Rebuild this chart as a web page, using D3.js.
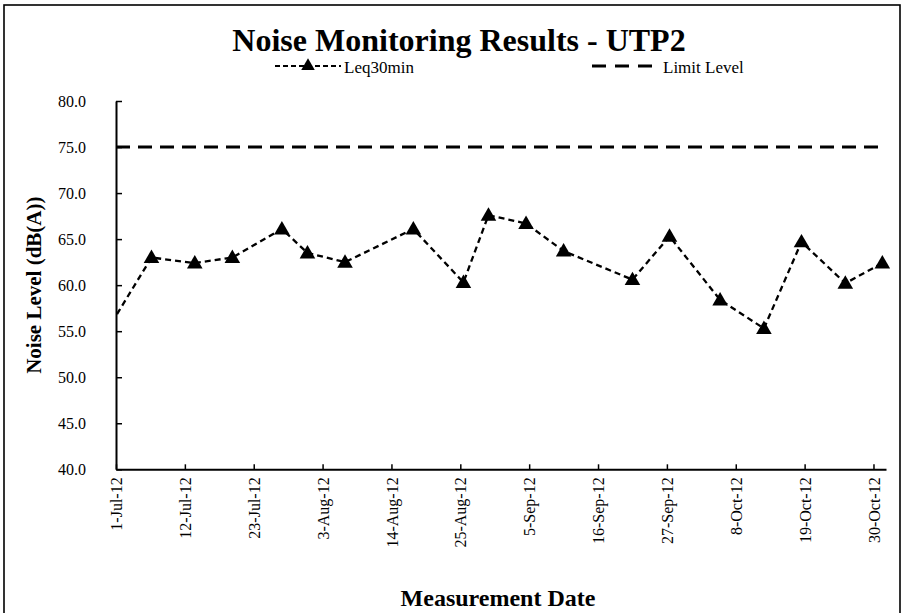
<!DOCTYPE html>
<html>
<head>
<meta charset="utf-8">
<script src="https://cdn.jsdelivr.net/npm/d3@7.9.0/dist/d3.min.js"></script>
<style>
  html, body { margin: 0; padding: 0; background: #fff; }
  svg { display: block; font-family: "Liberation Serif", "Times New Roman", serif; }
</style>
</head>
<body>
<div id="chart"></div>
<script>
// measurement dates (local time) and Leq30min readings, dB(A)
const measureDates = [
  '2012-06-29 12:00', '2012-07-06 16:00', '2012-07-13 14:00', '2012-07-19 14:00',
  '2012-07-27 12:00', '2012-07-31 14:00', '2012-08-06 14:00', '2012-08-17 12:00',
  '2012-08-25 12:00', '2012-08-29 12:00', '2012-09-04 12:00', '2012-09-10 12:00',
  '2012-09-21 12:00', '2012-09-27 10:00', '2012-10-05 12:00', '2012-10-12 12:00',
  '2012-10-18 12:00', '2012-10-25 12:00', '2012-10-31 10:00'
];
const leqValues = [
  55.0, 63.0, 62.4, 63.0,
  66.1, 63.5, 62.5, 66.1,
  60.3, 67.6, 66.7, 63.7,
  60.6, 65.3, 58.4, 55.3,
  64.7, 60.2, 62.4
];
const limitLevel = 75;

const xDomain = ['2012-07-01', '2012-11-01'];
const xTickDates = [
  '2012-07-01', '2012-07-12', '2012-07-23', '2012-08-03', '2012-08-14', '2012-08-25',
  '2012-09-05', '2012-09-16', '2012-09-27', '2012-10-08', '2012-10-19', '2012-10-30'
];
const yDomain = [40, 80];
const yTickValues = [40, 45, 50, 55, 60, 65, 70, 75, 80];

const parseTime = d3.timeParse('%Y-%m-%d %H:%M');
const parseDay = d3.timeParse('%Y-%m-%d');

const data = measureDates.map((d, i) => ({ date: parseTime(d), value: leqValues[i] }));

const width = 905;
const height = 613;
const plot = { left: 116, right: 886, top: 101, bottom: 469.3 };
const serif = '"Liberation Serif", "Times New Roman", serif';

const svg = d3.select('#chart')
  .append('svg')
  .attr('width', width)
  .attr('height', height);

// chart area border (bottom edge falls outside the picture)
svg.append('rect')
  .attr('x', 4).attr('y', 5)
  .attr('width', 896).attr('height', 640)
  .attr('fill', 'none')
  .attr('stroke', '#000')
  .attr('stroke-width', 1.6);

const xScale = d3.scaleTime()
  .domain(xDomain.map(parseDay))
  .range([plot.left, plot.right]);

const yScale = d3.scaleLinear()
  .domain(yDomain)
  .range([plot.bottom, plot.top]);

svg.append('defs').append('clipPath')
  .attr('id', 'plot-clip')
  .append('rect')
  .attr('x', plot.left).attr('y', plot.top - 10)
  .attr('width', plot.right - plot.left + 10)
  .attr('height', plot.bottom - plot.top + 10);

// title
svg.append('text')
  .attr('x', 459).attr('y', 51)
  .attr('text-anchor', 'middle')
  .style('font-size', '32px')
  .style('font-weight', 'bold')
  .text('Noise Monitoring Results - UTP2');

// axes
const yAxis = d3.axisLeft(yScale)
  .tickValues(yTickValues)
  .tickFormat(d3.format('.1f'))
  .tickSizeInner(-6)
  .tickSizeOuter(0)
  .tickPadding(30);

svg.append('g')
  .attr('class', 'y-axis')
  .attr('transform', `translate(${plot.left},0)`)
  .call(yAxis)
  .call(g => g.select('.domain').attr('stroke-width', 2))
  .call(g => g.selectAll('.tick line').attr('stroke-width', 1.5))
  .call(g => g.selectAll('text')
    .style('font-size', '16px')
    .style('font-family', serif)
    .attr('fill', '#000'));

const xAxis = d3.axisBottom(xScale)
  .tickValues(xTickDates.map(parseDay))
  .tickFormat(d => d3.timeFormat('%-d-%b-%y')(d))
  .tickSizeInner(-5)
  .tickSizeOuter(0);

svg.append('g')
  .attr('class', 'x-axis')
  .attr('transform', `translate(0,${plot.bottom})`)
  .call(xAxis)
  .call(g => g.select('.domain').attr('stroke-width', 2))
  .call(g => g.selectAll('.tick line').attr('stroke-width', 1.5))
  .call(g => g.selectAll('text')
    .style('font-size', '16px')
    .style('font-family', serif)
    .attr('fill', '#000')
    .attr('text-anchor', 'end')
    .attr('transform', 'rotate(-90)')
    .attr('x', -8)
    .attr('y', 0)
    .attr('dy', '0.35em'));

// axis titles
svg.append('text')
  .attr('transform', `translate(41,${(plot.top + plot.bottom) / 2}) rotate(-90)`)
  .attr('text-anchor', 'middle')
  .style('font-size', '21px')
  .style('font-weight', 'bold')
  .text('Noise Level (dB(A))');

svg.append('text')
  .attr('x', 498)
  .attr('y', 606)
  .attr('text-anchor', 'middle')
  .style('font-size', '24px')
  .style('font-weight', 'bold')
  .text('Measurement Date');

// limit level
svg.append('line')
  .attr('x1', plot.left).attr('x2', plot.right)
  .attr('y1', yScale(limitLevel)).attr('y2', yScale(limitLevel))
  .attr('stroke', '#000')
  .attr('stroke-width', 3)
  .attr('stroke-dasharray', '14,8');

// Leq30min series
const line = d3.line()
  .x(d => xScale(d.date))
  .y(d => yScale(d.value));

const series = svg.append('g').attr('clip-path', 'url(#plot-clip)');

series.append('path')
  .datum(data)
  .attr('d', line)
  .attr('fill', 'none')
  .attr('stroke', '#000')
  .attr('stroke-width', 2.3)
  .attr('stroke-dasharray', '6,4');

const triangle = d3.symbol().type(d3.symbolTriangle).size(105);

series.selectAll('path.marker')
  .data(data.filter(d => d.date >= xScale.domain()[0]))
  .join('path')
  .attr('class', 'marker')
  .attr('d', triangle)
  .attr('transform', d => `translate(${xScale(d.date)},${yScale(d.value) + 1})`)
  .attr('fill', '#000');

// legend
const legend = svg.append('g').attr('class', 'legend');
const legendY = 66;

legend.append('line')
  .attr('x1', 275).attr('x2', 341)
  .attr('y1', legendY).attr('y2', legendY)
  .attr('stroke', '#000')
  .attr('stroke-width', 2)
  .attr('stroke-dasharray', '5,3');
legend.append('path')
  .attr('d', d3.symbol().type(d3.symbolTriangle).size(80))
  .attr('transform', `translate(308,${legendY})`)
  .attr('fill', '#000');
legend.append('text')
  .attr('x', 344).attr('y', legendY + 7)
  .style('font-size', '17px')
  .text('Leq30min');

legend.append('line')
  .attr('x1', 592).attr('x2', 660)
  .attr('y1', legendY).attr('y2', legendY)
  .attr('stroke', '#000')
  .attr('stroke-width', 3)
  .attr('stroke-dasharray', '14,9');
legend.append('text')
  .attr('x', 663).attr('y', legendY + 7)
  .style('font-size', '17px')
  .text('Limit Level');
</script>
</body>
</html>
